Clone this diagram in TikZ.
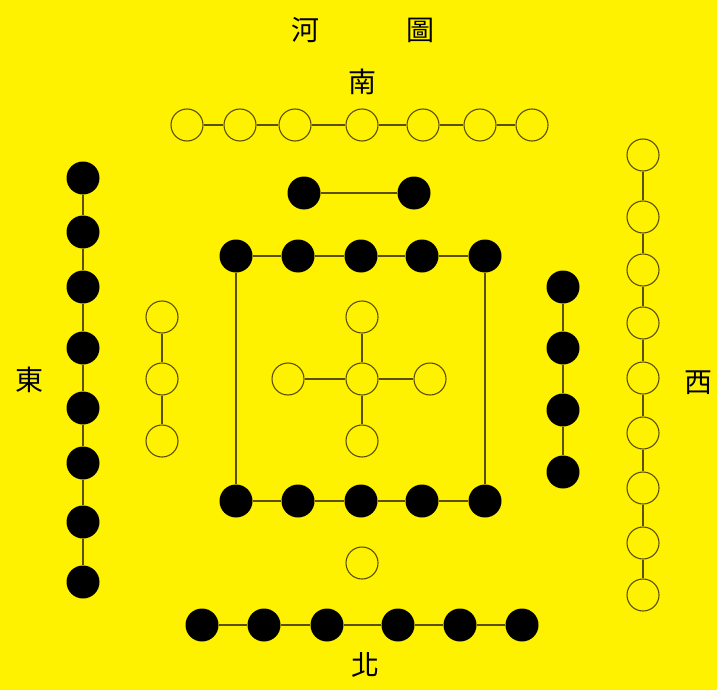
\documentclass[tikz,border=0pt]{standalone}
\usepackage{fontspec}
\newfontfamily\cjk{Noto Sans CJK TC}
\definecolor{bg}{RGB}{255,242,0}
\definecolor{ln}{RGB}{90,80,0}
\begin{document}
\begin{tikzpicture}[x=1pt,y=-1pt,
  yang/.style={circle,draw=ln,line width=1.1pt,fill=bg,minimum size=32pt,inner sep=0pt},
  yin/.style={circle,fill=black,minimum size=33pt,inner sep=0pt},
  link/.style={draw=ln,line width=1.1pt},
  lab/.style={font=\cjk\fontsize{28}{28}\selectfont,text=black,inner sep=0pt}]
\fill[bg] (0,0) rectangle (717,690);
\useasboundingbox (0,0) rectangle (717,690);
% labels
\node[lab] (he) at (305,30) {河};
\node[lab] (tu) at (420,30) {圖};
\node[lab] (nan) at (362,82) {南};
\node[lab] (dong) at (30,380) {東};
\node[lab] (xi) at (698,383) {西};
\node[lab] (bei) at (365,665) {北};
% top white row (7)
\foreach \x [count=\i] in {187,240,295,362,423,480,532} \node[yang] (n\i) at (\x,125) {};
\foreach \i [evaluate=\i as \j using int(\i+1)] in {1,...,6} \draw[link] (n\i) -- (n\j);
% left black column (8)
\foreach \y [count=\i] in {178,232,287,348,408,463,522,582} \node[yin] (e\i) at (83,\y) {};
\foreach \i [evaluate=\i as \j using int(\i+1)] in {1,...,7} \draw[link] (e\i) -- (e\j);
% right white column (9)
\foreach \y [count=\i] in {155,217,270,323,378,433,488,543,595} \node[yang] (w\i) at (643,\y) {};
\foreach \i [evaluate=\i as \j using int(\i+1)] in {1,...,8} \draw[link] (w\i) -- (w\j);
% bottom black row (6)
\foreach \x [count=\i] in {202,264,327,398,460,522} \node[yin] (s\i) at (\x,625) {};
\foreach \i [evaluate=\i as \j using int(\i+1)] in {1,...,5} \draw[link] (s\i) -- (s\j);
% top black pair
\node[yin] (p1) at (304,193) {};
\node[yin] (p2) at (414,193) {};
\draw[link] (p1) -- (p2);
% square of ten
\foreach \x [count=\i] in {236,298,361,422,485} {
  \node[yin] (t\i) at (\x,256) {};
  \node[yin] (b\i) at (\x,501) {};
}
\foreach \i [evaluate=\i as \j using int(\i+1)] in {1,...,4} {
  \draw[link] (t\i) -- (t\j);
  \draw[link] (b\i) -- (b\j);
}
\draw[link] (t1) -- (b1);
\draw[link] (t5) -- (b5);
% left white column (3)
\foreach \y [count=\i] in {317,379,441} \node[yang] (l\i) at (162,\y) {};
\draw[link] (l1) -- (l2); \draw[link] (l2) -- (l3);
% right black column (4)
\foreach \y [count=\i] in {287,348,410,472} \node[yin] (r\i) at (563,\y) {};
\foreach \i [evaluate=\i as \j using int(\i+1)] in {1,...,3} \draw[link] (r\i) -- (r\j);
% centre five
\node[yang] (c0) at (362,379) {};
\node[yang] (cu) at (362,317) {};
\node[yang] (cd) at (362,441) {};
\node[yang] (cl) at (288,379) {};
\node[yang] (cr) at (430,379) {};
\draw[link] (c0) -- (cu);
\draw[link] (c0) -- (cd);
\draw[link] (c0) -- (cl);
\draw[link] (c0) -- (cr);
% single white below
\node[yang] (one) at (362,563) {};
\end{tikzpicture}
\end{document}
